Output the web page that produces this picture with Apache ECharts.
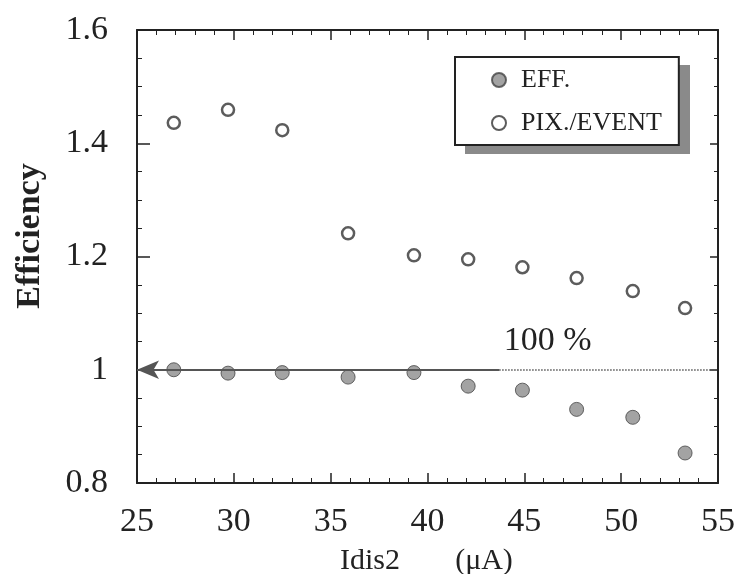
<!DOCTYPE html>
<html>
<head>
<meta charset="utf-8">
<script src="https://cdn.jsdelivr.net/npm/echarts@6/dist/echarts.min.js"></script>
<style>
  html, body { margin: 0; padding: 0; background: #ffffff; }
  #chart { width: 739px; height: 574px; }
</style>
</head>
<body>
<div id="chart"></div>
<script>
// Idis2 current (uA)
var idis = [26.9, 29.7, 32.5, 35.9, 39.3, 42.1, 44.9, 47.7, 50.6, 53.3];
// efficiency (filled dots)
var eff = [1.0, 0.994, 0.995, 0.987, 0.995, 0.971, 0.964, 0.930, 0.916, 0.853];
// pixels per event (open dots)
var pixPerEvent = [1.436, 1.459, 1.423, 1.241, 1.202, 1.195, 1.181, 1.162, 1.139, 1.109];

var serif = "Liberation Serif";

function pairs(xs, ys) {
  var out = [];
  for (var i = 0; i < xs.length; i++) {
    out.push([xs[i], ys[i]]);
  }
  return out;
}

var chart = echarts.init(document.getElementById("chart"));

var axisLine = { lineStyle: { color: "#222", width: 2 } };

var option = {
  animation: false,
  grid: { left: 137, right: 21, top: 30, bottom: 91 },
  legend: {
    orient: "vertical",
    left: 455,
    top: 57,
    z: 5,
    padding: [10, 17, 9, 36],
    itemGap: 17,
    itemWidth: 14,
    itemHeight: 14,
    backgroundColor: "#ffffff",
    borderColor: "#222",
    borderWidth: 2,
    textStyle: {
      fontFamily: serif,
      fontSize: 26,
      lineHeight: 26,
      color: "#222",
      padding: [0, 0, 0, 10],
    },
    data: ["EFF.", "PIX./EVENT"],
  },
  xAxis: [
    {
      type: "value",
      min: 25,
      max: 55,
      interval: 5,
      position: "bottom",
      axisLine: axisLine,
      axisTick: { inside: true, length: 10, lineStyle: { color: "#222", width: 1.5 } },
      minorTick: { show: true, splitNumber: 5, length: 5, lineStyle: { color: "#222" } },
      splitLine: { show: false },
      axisLabel: { margin: 22, fontFamily: serif, fontSize: 34, color: "#222" },
    },
    {
      type: "value",
      min: 25,
      max: 55,
      interval: 5,
      position: "top",
      axisLine: axisLine,
      axisTick: { inside: true, length: 10, lineStyle: { color: "#222", width: 1.5 } },
      minorTick: { show: true, splitNumber: 5, length: 5, lineStyle: { color: "#222" } },
      splitLine: { show: false },
      axisLabel: { show: false },
    },
  ],
  yAxis: [
    {
      type: "value",
      min: 0.8,
      max: 1.6,
      interval: 0.2,
      position: "left",
      axisLine: axisLine,
      axisTick: { inside: true, length: 13, lineStyle: { color: "#222", width: 1.5 } },
      minorTick: { show: true, splitNumber: 4, length: 5, lineStyle: { color: "#222" } },
      splitLine: { show: false },
      axisLabel: { margin: 29, fontFamily: serif, fontSize: 34, color: "#222" },
    },
    {
      type: "value",
      min: 0.8,
      max: 1.6,
      interval: 0.2,
      position: "right",
      axisLine: axisLine,
      axisTick: { inside: true, length: 8, lineStyle: { color: "#222", width: 1.5 } },
      minorTick: { show: true, splitNumber: 4, length: 4, lineStyle: { color: "#222" } },
      splitLine: { show: false },
      axisLabel: { show: false },
    },
  ],
  series: [
    {
      name: "EFF.",
      type: "scatter",
      symbol: "circle",
      symbolSize: 14,
      itemStyle: { color: "#8c8c8c", borderColor: "#444", borderWidth: 1 },
      data: pairs(idis, eff),
      z: 3,
      markLine: {
        silent: true,
        symbolSize: [14, 22],
        label: { show: false },
        data: [
          [
            { coord: [25, 1], symbol: "arrow" },
            { coord: [43.7, 1], symbol: "none" },
          ],
          [
            { coord: [43.7, 1], symbol: "none", lineStyle: { type: "dotted", color: "#555", width: 1.5 } },
            { coord: [55, 1], symbol: "none" },
          ],
        ],
        lineStyle: { type: "solid", color: "#555", width: 2 },
      },
      markPoint: {
        silent: true,
        symbol: "circle",
        symbolSize: 0,
        label: {
          show: true,
          formatter: "100 %",
          fontFamily: serif,
          fontSize: 34,
          color: "#222",
        },
        data: [{ coord: [46.2, 1.051] }],
      },
    },
    {
      name: "PIX./EVENT",
      type: "scatter",
      symbol: "circle",
      symbolSize: 12,
      itemStyle: { color: "#ffffff", borderColor: "#333", borderWidth: 2.5 },
      data: pairs(idis, pixPerEvent),
      z: 3,
    },
  ],
  graphic: [
    {
      // legend drop shadow
      type: "rect",
      z: 1,
      shape: { x: 465, y: 65, width: 225, height: 89 },
      style: { fill: "#8a8a8a" },
    },
    {
      type: "text",
      x: 30,
      y: 236,
      rotation: Math.PI / 2,
      style: {
        text: "Efficiency",
        fontFamily: serif,
        fontWeight: "bold",
        fontSize: 34,
        fill: "#222",
        textAlign: "center",
        textVerticalAlign: "middle",
      },
    },
    {
      type: "text",
      x: 370,
      y: 561,
      style: {
        text: "Idis2",
        fontFamily: serif,
        fontSize: 30,
        fill: "#222",
        textAlign: "center",
        textVerticalAlign: "middle",
      },
    },
    {
      type: "text",
      x: 484,
      y: 561,
      style: {
        text: "(\u03bcA)",
        fontFamily: serif,
        fontSize: 30,
        fill: "#222",
        textAlign: "center",
        textVerticalAlign: "middle",
      },
    },
  ],
};

chart.setOption(option);
</script>
</body>
</html>
